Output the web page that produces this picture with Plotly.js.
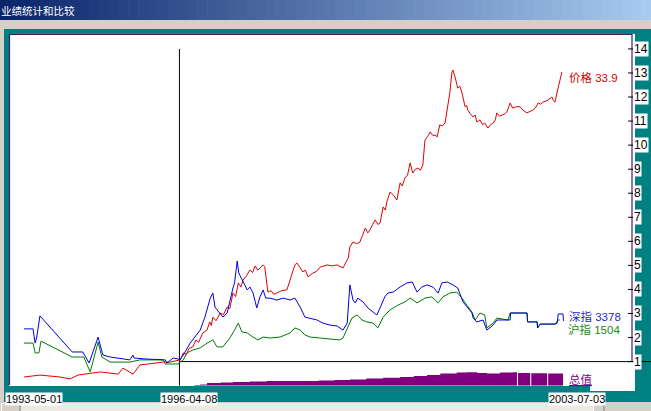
<!DOCTYPE html>
<html><head><meta charset="utf-8">
<script src="https://cdn.plot.ly/plotly-3.0.1.min.js"></script>
<style>html,body{margin:0;padding:0;background:#d4d0c8;overflow:hidden}#chart{width:651px;height:411px}</style>
</head><body><div id="chart"></div>
<script>
// ---------------- data (decimal years, normalised values) ----------------
const priceYears = [1993.33,1993.63,1994.01,1994.20,1994.35,1994.77,1995.11,1995.20,1995.39,1995.52,
1995.75,1995.96,1996.09,1996.28,1996.31,1996.34,1996.40,1996.45,1996.52,1996.58,
1996.63,1996.71,1996.79,1996.84,1996.87,1996.90,1996.96,1997.04,1997.10,1997.17,
1997.22,1997.28,1997.33,1997.38,1997.43,1997.47,1997.53,1997.60,1997.65,1997.70,
1997.75,1997.79,1997.85,1997.88,1997.92,1997.94,1998.00,1998.05,1998.11,1998.20,
1998.30,1998.36,1998.45,1998.49,1998.55,1998.60,1998.65,1998.70,1998.79,1998.86,
1998.93,1999.06,1999.15,1999.25,1999.36,1999.46,1999.49,1999.55,1999.62,1999.68,
1999.73,1999.78,1999.83,1999.87,1999.92,1999.97,2000.02,2000.06,2000.12,2000.16,
2000.19,2000.25,2000.31,2000.38,2000.44,2000.48,2000.53,2000.58,2000.63,2000.68,
2000.73,2000.78,2000.82,2000.87,2000.91,2000.96,2001.01,2001.06,2001.10,2001.14,
2001.19,2001.24,2001.29,2001.33,2001.38,2001.42,2001.44,2001.46,2001.48,2001.53,
2001.57,2001.61,2001.67,2001.70,2001.72,2001.77,2001.82,2001.86,2001.89,2001.95,
2002.00,2002.04,2002.10,2002.15,2002.20,2002.24,2002.27,2002.32,2002.37,2002.42,
2002.46,2002.52,2002.57,2002.64,2002.71,2002.76,2002.84,2002.90,2002.95,2003.00,
2003.05,2003.10,2003.14,2003.22,2003.31,2003.34,2003.37,2003.41,2003.43,2003.46,
2003.50];
const priceVals = [0.36,0.44,0.36,0.28,0.44,0.57,0.48,0.73,0.48,0.86,
0.92,0.98,0.98,1.07,1.20,1.36,1.30,1.55,1.61,1.90,
1.80,2.19,2.31,2.65,2.50,2.85,2.70,3.02,2.95,3.27,
3.20,3.85,3.70,4.27,4.10,4.39,4.55,4.81,4.70,4.98,
4.80,4.89,5.02,4.95,4.27,3.89,3.95,3.80,3.85,3.95,
3.98,4.39,5.02,5.10,4.90,4.73,4.80,4.52,4.68,4.75,
4.93,5.02,4.98,5.02,4.89,5.31,5.77,5.97,5.90,5.97,
6.25,6.55,6.35,6.47,6.70,6.89,6.70,6.76,7.43,7.30,
7.64,8.05,7.93,7.72,8.43,8.30,8.63,8.75,9.26,8.84,
9.00,9.05,8.95,9.17,10.21,10.35,10.55,10.40,10.42,10.34,
10.84,10.80,10.92,11.46,12.17,13.04,13.12,12.95,12.83,12.37,
12.45,12.17,11.59,11.65,11.46,11.30,11.17,11.25,10.96,11.05,
10.85,10.92,10.71,10.85,10.92,11.05,11.34,11.20,11.25,11.30,
11.38,11.75,11.54,11.60,11.59,11.46,11.34,11.40,11.46,11.55,
11.75,11.70,11.79,11.85,12.00,11.85,11.79,12.21,12.41,12.71,
13.04];

const szYears = [1993.33,1993.50,1993.54,1993.57,1993.63,1994.24,1994.44,1994.56,1994.73,1994.82,
1994.96,1995.33,1995.39,1995.41,1995.62,1996.00,1996.03,1996.15,1996.24,1996.28,
1996.34,1996.47,1996.56,1996.66,1996.75,1996.85,1996.90,1996.94,1996.98,1997.09,
1997.17,1997.22,1997.28,1997.31,1997.36,1997.39,1997.47,1997.55,1997.60,1997.66,
1997.73,1997.79,1997.85,1997.90,1997.98,1998.11,1998.23,1998.36,1998.45,1998.55,
1998.64,1998.74,1998.87,1998.98,1999.11,1999.25,1999.36,1999.44,1999.49,1999.55,
1999.59,1999.64,1999.74,1999.83,1999.93,2000.00,2000.06,2000.15,2000.21,2000.31,
2000.44,2000.57,2000.67,2000.76,2000.85,2000.95,2001.06,2001.16,2001.23,2001.33,
2001.44,2001.53,2001.63,2001.70,2001.80,2001.82,2001.89,2002.01,2002.08,2002.20,
2002.27,2002.52,2002.53,2002.84,2002.85,2003.03,2003.04,2003.09,2003.37,2003.41,
2003.43,2003.52,2003.53];
const szVals = [2.36,2.36,1.77,2.02,2.90,1.40,1.40,0.94,2.02,1.27,
1.19,1.07,1.27,1.15,1.11,1.07,0.94,1.15,1.11,1.07,
1.27,1.77,2.02,2.31,2.85,3.64,3.85,3.27,3.15,2.85,
3.02,3.56,4.06,4.27,5.18,4.68,4.31,3.98,4.10,3.85,
3.23,3.69,3.98,3.64,3.64,3.56,3.64,3.56,3.64,3.27,
2.85,2.81,2.73,2.60,2.52,2.48,2.31,2.60,4.19,3.56,
3.44,3.64,3.48,3.23,3.06,2.94,3.23,3.69,3.85,3.89,
4.10,4.27,4.31,3.89,4.10,4.19,4.10,3.85,4.27,4.31,
4.19,4.06,3.48,3.27,3.02,2.81,2.65,2.73,2.31,2.52,
2.73,2.73,3.02,3.02,2.65,2.65,2.40,2.56,2.56,2.60,
2.98,2.98,2.69];

const shYears = [1993.33,1993.50,1993.54,1993.61,1993.65,1994.24,1994.46,1994.58,1994.73,1994.80,
1994.96,1995.10,1995.33,1995.52,1995.96,1996.00,1996.24,1996.28,1996.34,1996.41,
1996.52,1996.66,1996.79,1996.90,1996.98,1997.09,1997.22,1997.31,1997.38,1997.45,
1997.55,1997.66,1997.75,1997.85,1997.98,1998.17,1998.36,1998.45,1998.55,1998.64,
1998.74,1998.93,1999.11,1999.30,1999.36,1999.46,1999.53,1999.63,1999.72,1999.81,
1999.93,2000.02,2000.12,2000.25,2000.40,2000.53,2000.63,2000.76,2000.91,2001.04,
2001.16,2001.25,2001.38,2001.51,2001.61,2001.70,2001.80,2001.86,2001.95,2002.04,
2002.08,2002.20,2002.27,2002.48,2002.52,2002.84,2002.85,2003.03,2003.04,2003.09,
2003.37,2003.43,2003.46];
const shVals = [1.77,1.77,1.36,1.36,1.85,1.19,1.19,0.57,1.81,1.19,
0.98,0.98,0.98,1.07,1.07,0.90,0.90,0.98,1.07,1.36,
1.48,1.57,1.77,1.90,1.61,1.61,1.98,2.31,2.60,2.23,
2.19,2.02,1.90,2.02,1.98,2.02,2.19,2.40,2.31,2.11,
2.02,1.98,1.94,1.90,1.98,2.44,2.81,2.94,2.73,2.65,
2.60,2.40,2.85,3.15,3.35,3.48,3.64,3.44,3.64,3.69,
3.44,3.69,3.85,3.89,3.64,3.35,3.06,2.73,3.02,2.94,
2.40,2.60,2.81,2.73,3.02,3.02,2.65,2.65,2.40,2.56,
2.56,2.73,2.73];

const totalYears = [1996.55,1996.66,1996.79,1997.05,1997.28,1997.60,1997.92,1998.20,1998.55,1998.90,
1999.20,1999.49,1999.80,2000.12,2000.44,2000.70,2000.95,2001.20,2001.51,2001.70,
2001.90,2002.08,2002.33,2002.57,2002.65,2002.67,2002.90,2002.92,2003.22,2003.24,
2003.52];
const totalVals = [0.03,0.05,0.11,0.13,0.15,0.17,0.19,0.19,0.19,0.21,
0.23,0.26,0.30,0.33,0.36,0.40,0.44,0.50,0.55,0.56,
0.53,0.51,0.55,0.56,0,0.53,0,0.52,0,0.50,
0.48];

const yTicks = [1,2,3,4,5,6,7,8,9,10,11,12,13,14];
const dateLabels = ['1993-05-01','1996-04-08','2003-07-03'];
const cursorYear = 1996.268;   // 1996-04-08
const seriesLabels = {price:'价格 33.9', sz:'深指 3378', sh:'沪指 1504', total:'总值'};
const windowTitle = '业绩统计和比较';

// ---------------- geometry / style ----------------
const W=651,H=411;
const PX=x=>x/W, PY=y=>1-y/H;
const xRange=[1993.064,2004.825], yRange=[0,14.62];
const xDom=[PX(10),PX(632)], yDom=[PY(385.65),PY(34)];
const xToPaper=v=>xDom[0]+(v-xRange[0])/(xRange[1]-xRange[0])*(xDom[1]-xDom[0]);
const vToPaper=v=>yDom[0]+(v-yRange[0])/(yRange[1]-yRange[0])*(yDom[1]-yDom[0]);
const NUMFONT='Liberation Sans, Arial, sans-serif';
const MIX='Liberation Sans, Noto Sans CJK SC, sans-serif';
const CJK='Noto Sans CJK SC, sans-serif';

const shapes=[];
function rect(x0,y0,x1,y1,color){shapes.push({type:'rect',xref:'paper',yref:'paper',x0:PX(x0),x1:PX(x1),y0:PY(y1),y1:PY(y0),fillcolor:color,line:{width:0},layer:'below'});}
function hline(x0,x1,y,color,w){shapes.push({type:'line',xref:'paper',yref:'paper',x0:PX(x0),x1:PX(x1),y0:PY(y),y1:PY(y),line:{color:color,width:w||1},layer:'below'});}
function vline(x,y0,y1,color,w){shapes.push({type:'line',xref:'paper',yref:'paper',x0:PX(x),x1:PX(x),y0:PY(y0),y1:PY(y1),line:{color:color,width:w||1},layer:'below'});}

// window background
rect(0,0,W,H,'#d4d0c8');
// title bar gradient
const c0=[10,36,106], c1=[166,202,240], N=66;
for(let i=0;i<N;i++){const t=i/(N-1);const c=c0.map((a,k)=>Math.round(a+(c1[k]-a)*t));rect(i*W/N,0,(i+1)*W/N+0.6,20,'rgb('+c.join(',')+')');}
// teal panel
rect(4,29,W,402,'#008080');
// white chart area
rect(9,34,635,386,'#ffffff');
rect(590,386,635,391,'#ffffff');
// purple frame
const FRAME='#4b1a6b';
hline(9,632,34.5,FRAME,1.2);
vline(9.5,34,385,FRAME,1.2);
vline(632,34,362,FRAME,1.2);
// bottom scroll bar
rect(0,402,W,H,'#d4d0c8');
rect(21,403,593,H,'#ebe9e3');
rect(1,403,20,H,'#d4d0c8'); hline(1,20,403.5,'#ffffff',1); vline(1.5,403,H,'#ffffff',1); vline(20,403,H,'#808080',1);
rect(593,403,604,H,'#d4d0c8'); hline(593,604,403.5,'#ffffff',1); vline(593.5,403,H,'#ffffff',1); vline(604,403,H,'#808080',1);
// cursor cross
const cx=xToPaper(cursorYear);
shapes.push({type:'line',xref:'paper',yref:'paper',x0:cx,x1:cx,y0:vToPaper(0),y1:vToPaper(14),line:{color:'#000',width:1},layer:'below'});
shapes.push({type:'line',xref:'paper',yref:'paper',x0:cx,x1:1,y0:vToPaper(1),y1:vToPaper(1),line:{color:'#000',width:1},layer:'below'});

// ---------------- traces ----------------
const traces=[
 {x:totalYears,y:totalVals,type:'scatter',mode:'lines',line:{width:0,shape:'hv',color:'#800080'},fill:'tozeroy',fillcolor:'#800080'},
 {x:shYears,y:shVals,type:'scatter',mode:'lines',line:{width:1,color:'#007a00'}},
 {x:priceYears,y:priceVals,type:'scatter',mode:'lines',line:{width:1,color:'#e00000'}},
 {x:szYears,y:szVals,type:'scatter',mode:'lines',line:{width:1,color:'#0000dd'}}
];

// ---------------- annotations ----------------
const ann=[];
ann.push({xref:'paper',yref:'paper',x:PX(-1),y:PY(10.5),xanchor:'left',yanchor:'middle',text:windowTitle,showarrow:false,font:{family:CJK,size:10.5,color:'#ffffff'}});
yTicks.forEach(v=>{
  ann.push({xref:'paper',yref:'paper',x:PX(633),y:vToPaper(v),xanchor:'left',yanchor:'middle',text:String(v),showarrow:false,bgcolor:'#ffffff',borderpad:0,font:{family:NUMFONT,size:12,color:'#000'}});
  shapes.push({type:'line',xref:'paper',yref:'paper',x0:PX(628),x1:PX(633),y0:vToPaper(v),y1:vToPaper(v),line:{color:'#000',width:1},layer:'above'});
});
[5,160,548].forEach((x,i)=>{
  ann.push({xref:'paper',yref:'paper',x:PX(x),y:PY(399),xanchor:'left',yanchor:'middle',text:dateLabels[i],showarrow:false,bgcolor:'#ffffff',borderpad:0,font:{family:NUMFONT,size:11,color:'#000'}});
});
ann.push({xref:'paper',yref:'paper',x:PX(567),y:PY(77),xanchor:'left',yanchor:'middle',text:seriesLabels.price,showarrow:false,font:{family:MIX,size:11.5,color:'#d40000'}});
ann.push({xref:'paper',yref:'paper',x:PX(567),y:PY(316),xanchor:'left',yanchor:'middle',text:seriesLabels.sz,showarrow:false,font:{family:MIX,size:11.5,color:'#2a2ad0'}});
ann.push({xref:'paper',yref:'paper',x:PX(567),y:PY(329),xanchor:'left',yanchor:'middle',text:seriesLabels.sh,showarrow:false,bgcolor:'#ffffff',borderpad:0,font:{family:MIX,size:11.5,color:'#178a17'}});
ann.push({xref:'paper',yref:'paper',x:PX(567),y:PY(379),xanchor:'left',yanchor:'middle',text:'<u>'+seriesLabels.total+'</u>',showarrow:false,font:{family:CJK,size:11.5,color:'#800080'}});

const layout={width:W,height:H,margin:{l:0,r:0,t:0,b:0,pad:0},paper_bgcolor:'#d4d0c8',plot_bgcolor:'rgba(0,0,0,0)',showlegend:false,hovermode:false,
 xaxis:{domain:xDom,range:xRange,showgrid:false,zeroline:false,showticklabels:false,showline:false,ticks:'',fixedrange:true},
 yaxis:{domain:yDom,range:yRange,showgrid:false,zeroline:false,showticklabels:false,showline:false,ticks:'',fixedrange:true},
 shapes:shapes,annotations:ann};
Plotly.newPlot('chart',traces,layout,{staticPlot:true,displayModeBar:false});
</script></body></html>
